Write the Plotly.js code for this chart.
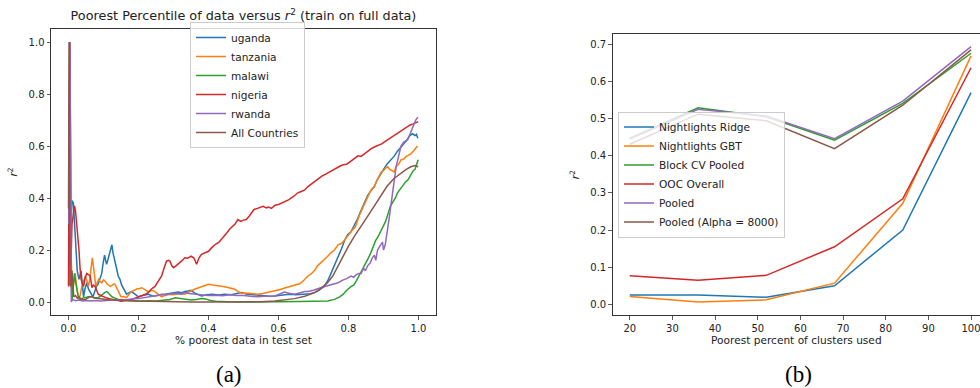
<!DOCTYPE html>
<html>
<head>
<meta charset="utf-8">
<script src="https://cdn.plot.ly/plotly-3.0.1.min.js"></script>
<style>html,body{margin:0;padding:0;background:#fff}#chart{width:980px;height:388px}</style>
</head>
<body>
<div id="chart"></div>
<script>
// ---------- Panel (a): poorest percentile vs r^2 ----------
const ugandaX = [0.001,0.004,0.007,0.010,0.014,0.018,0.021,0.025,0.030,0.033,0.036,0.040,0.043,0.047,0.052,0.057,0.062,0.066,0.070,0.075,0.080,0.085,0.090,0.095,0.099,0.103,0.106,0.109,0.113,0.116,0.120,0.124,0.127,0.131,0.135,0.138,0.142,0.147,0.152,0.157,0.162,0.166,0.172,0.180,0.190,0.200,0.212,0.228,0.242,0.256,0.270,0.285,0.300,0.313,0.325,0.332,0.342,0.350,0.360,0.370,0.380,0.395,0.410,0.430,0.446,0.465,0.480,0.494,0.510,0.525,0.540,0.560,0.575,0.590,0.610,0.630,0.650,0.675,0.690,0.703,0.715,0.730,0.740,0.750,0.760,0.770,0.780,0.790,0.798,0.807,0.815,0.826,0.835,0.845,0.855,0.865,0.874,0.882,0.890,0.900,0.910,0.920,0.930,0.940,0.950,0.959,0.968,0.975,0.983,0.990,0.994,0.998];
const ugandaY = [0.55,1.0,0.30,0.39,0.38,0.30,0.20,0.12,0.087,0.10,0.12,0.06,0.02,0.05,0.074,0.05,0.036,0.025,0.02,0.04,0.06,0.07,0.09,0.11,0.15,0.18,0.16,0.145,0.165,0.18,0.20,0.22,0.19,0.17,0.145,0.125,0.10,0.087,0.065,0.05,0.035,0.03,0.035,0.04,0.03,0.02,0.025,0.03,0.022,0.025,0.028,0.03,0.033,0.038,0.036,0.04,0.042,0.045,0.035,0.03,0.023,0.028,0.03,0.027,0.03,0.028,0.032,0.036,0.03,0.028,0.026,0.025,0.022,0.023,0.026,0.03,0.028,0.03,0.032,0.036,0.045,0.06,0.08,0.11,0.14,0.17,0.205,0.24,0.26,0.27,0.29,0.32,0.35,0.38,0.41,0.43,0.445,0.47,0.49,0.51,0.53,0.545,0.56,0.58,0.595,0.61,0.625,0.64,0.647,0.64,0.645,0.63];

const tanzaniaX = [0.001,0.004,0.008,0.012,0.016,0.019,0.024,0.030,0.034,0.038,0.043,0.048,0.052,0.057,0.061,0.065,0.068,0.071,0.074,0.078,0.082,0.086,0.090,0.095,0.100,0.105,0.110,0.115,0.119,0.125,0.130,0.133,0.137,0.140,0.145,0.150,0.158,0.166,0.173,0.180,0.188,0.195,0.203,0.210,0.218,0.228,0.238,0.247,0.256,0.266,0.275,0.285,0.297,0.310,0.322,0.332,0.345,0.360,0.372,0.385,0.400,0.412,0.425,0.437,0.450,0.462,0.475,0.485,0.494,0.505,0.520,0.540,0.555,0.570,0.590,0.605,0.620,0.636,0.650,0.660,0.670,0.684,0.695,0.705,0.712,0.720,0.730,0.740,0.750,0.760,0.770,0.780,0.790,0.800,0.810,0.820,0.830,0.840,0.850,0.857,0.864,0.872,0.880,0.886,0.893,0.900,0.906,0.912,0.918,0.924,0.930,0.936,0.943,0.950,0.958,0.965,0.972,0.978,0.985,0.991,0.997];
const tanzaniaY = [0.2,1.0,0.15,0.05,0.08,0.11,0.05,0.01,0.03,0.06,0.08,0.10,0.085,0.06,0.09,0.14,0.17,0.14,0.11,0.06,0.075,0.087,0.08,0.074,0.085,0.08,0.07,0.065,0.06,0.065,0.07,0.068,0.055,0.05,0.035,0.02,0.02,0.017,0.03,0.04,0.045,0.05,0.052,0.055,0.048,0.04,0.045,0.04,0.03,0.02,0.025,0.03,0.028,0.03,0.032,0.03,0.04,0.049,0.055,0.062,0.068,0.065,0.064,0.061,0.058,0.055,0.049,0.04,0.033,0.035,0.032,0.03,0.033,0.038,0.042,0.048,0.055,0.061,0.065,0.07,0.08,0.10,0.11,0.125,0.14,0.15,0.16,0.175,0.19,0.20,0.22,0.225,0.24,0.26,0.275,0.29,0.33,0.36,0.39,0.41,0.43,0.44,0.46,0.48,0.50,0.505,0.515,0.52,0.51,0.505,0.50,0.52,0.53,0.547,0.55,0.56,0.565,0.57,0.58,0.59,0.60];

const malawiX = [0.001,0.003,0.005,0.008,0.010,0.013,0.017,0.020,0.024,0.028,0.033,0.040,0.048,0.057,0.067,0.076,0.086,0.093,0.100,0.105,0.110,0.117,0.124,0.133,0.142,0.155,0.170,0.190,0.210,0.230,0.250,0.270,0.290,0.305,0.320,0.335,0.350,0.365,0.380,0.392,0.405,0.420,0.440,0.470,0.520,0.570,0.620,0.660,0.700,0.740,0.760,0.775,0.785,0.795,0.808,0.815,0.822,0.830,0.836,0.843,0.850,0.857,0.864,0.870,0.877,0.884,0.890,0.896,0.900,0.906,0.913,0.920,0.927,0.934,0.940,0.948,0.955,0.962,0.970,0.978,0.985,0.990,0.995,0.999];
const malawiY = [0.15,1.0,0.2,0.1,0.005,0.05,0.11,0.08,0.05,0.02,0.01,0.015,0.017,0.02,0.02,0.015,0.017,0.025,0.036,0.038,0.04,0.03,0.02,0.015,0.01,0.007,0.005,0.004,0.003,0.005,0.004,0.006,0.01,0.016,0.014,0.01,0.008,0.01,0.013,0.012,0.006,0.003,0.001,0.0,0.0,0.0,0.001,0.002,0.003,0.004,0.01,0.02,0.03,0.045,0.06,0.065,0.08,0.10,0.113,0.13,0.15,0.17,0.19,0.21,0.235,0.25,0.265,0.28,0.29,0.31,0.34,0.37,0.385,0.40,0.42,0.435,0.45,0.46,0.47,0.49,0.505,0.51,0.53,0.547];

const nigeriaX = [0.0,0.003,0.006,0.010,0.014,0.017,0.020,0.024,0.027,0.030,0.033,0.036,0.040,0.043,0.047,0.052,0.057,0.062,0.067,0.071,0.076,0.080,0.085,0.092,0.100,0.110,0.120,0.133,0.142,0.150,0.160,0.170,0.180,0.190,0.200,0.210,0.220,0.228,0.237,0.247,0.256,0.266,0.273,0.280,0.286,0.290,0.295,0.300,0.308,0.318,0.325,0.332,0.340,0.350,0.358,0.366,0.373,0.380,0.390,0.400,0.410,0.420,0.430,0.437,0.445,0.452,0.460,0.468,0.476,0.484,0.492,0.500,0.508,0.516,0.523,0.530,0.540,0.548,0.556,0.565,0.572,0.580,0.590,0.600,0.608,0.618,0.630,0.642,0.655,0.665,0.674,0.685,0.695,0.705,0.715,0.725,0.735,0.745,0.755,0.765,0.775,0.785,0.795,0.805,0.817,0.827,0.836,0.845,0.855,0.865,0.875,0.885,0.895,0.905,0.915,0.925,0.935,0.945,0.955,0.965,0.975,0.985,0.995,0.999];
const nigeriaY = [0.06,1.0,0.1,0.30,0.34,0.37,0.35,0.30,0.25,0.20,0.13,0.087,0.07,0.06,0.09,0.11,0.105,0.10,0.055,0.065,0.06,0.045,0.03,0.025,0.02,0.015,0.012,0.01,0.006,0.003,0.005,0.008,0.01,0.015,0.02,0.023,0.03,0.036,0.05,0.06,0.08,0.10,0.13,0.157,0.16,0.157,0.14,0.132,0.14,0.15,0.16,0.17,0.168,0.176,0.17,0.145,0.17,0.183,0.19,0.195,0.21,0.222,0.23,0.24,0.255,0.265,0.28,0.29,0.30,0.317,0.31,0.315,0.317,0.33,0.345,0.356,0.36,0.365,0.368,0.362,0.365,0.36,0.372,0.375,0.38,0.385,0.394,0.405,0.42,0.425,0.43,0.445,0.455,0.468,0.475,0.485,0.492,0.50,0.505,0.515,0.522,0.528,0.53,0.54,0.554,0.562,0.56,0.57,0.58,0.59,0.597,0.603,0.608,0.618,0.627,0.635,0.645,0.655,0.665,0.672,0.68,0.685,0.69,0.694];

const rwandaX = [0.001,0.004,0.006,0.008,0.012,0.020,0.030,0.040,0.050,0.060,0.070,0.080,0.090,0.100,0.120,0.140,0.150,0.160,0.180,0.200,0.215,0.228,0.240,0.256,0.266,0.280,0.295,0.310,0.322,0.332,0.345,0.360,0.375,0.390,0.400,0.420,0.440,0.460,0.480,0.500,0.520,0.540,0.560,0.580,0.590,0.605,0.617,0.630,0.645,0.660,0.675,0.684,0.700,0.720,0.735,0.750,0.770,0.785,0.795,0.807,0.815,0.822,0.830,0.836,0.843,0.848,0.855,0.862,0.868,0.874,0.878,0.883,0.888,0.892,0.897,0.900,0.905,0.910,0.917,0.922,0.926,0.931,0.936,0.943,0.950,0.958,0.969,0.977,0.985,0.992,0.998];
const rwandaY = [0.3,1.0,0.5,0.0,0.01,0.005,0.008,0.004,0.006,0.004,0.005,0.006,0.004,0.005,0.006,0.008,0.01,0.008,0.012,0.013,0.016,0.02,0.022,0.026,0.03,0.028,0.032,0.034,0.03,0.036,0.033,0.03,0.028,0.026,0.025,0.026,0.024,0.028,0.025,0.025,0.022,0.02,0.022,0.021,0.023,0.032,0.038,0.034,0.03,0.035,0.04,0.04,0.045,0.055,0.06,0.065,0.074,0.085,0.09,0.10,0.095,0.105,0.11,0.11,0.13,0.12,0.14,0.15,0.17,0.18,0.16,0.20,0.215,0.22,0.23,0.20,0.22,0.26,0.33,0.38,0.43,0.47,0.52,0.56,0.60,0.615,0.624,0.65,0.68,0.70,0.711];

const allX = [0.0,0.002,0.004,0.007,0.010,0.013,0.015,0.020,0.025,0.030,0.035,0.040,0.048,0.055,0.060,0.067,0.075,0.085,0.100,0.115,0.130,0.150,0.175,0.200,0.225,0.250,0.300,0.350,0.400,0.450,0.500,0.550,0.590,0.620,0.646,0.675,0.703,0.720,0.740,0.755,0.770,0.785,0.800,0.818,0.836,0.855,0.874,0.890,0.910,0.930,0.950,0.965,0.978,0.990,0.999];
const allY = [0.36,1.0,0.065,0.06,0.12,0.04,0.02,0.025,0.015,0.02,0.012,0.01,0.01,0.015,0.02,0.02,0.015,0.013,0.01,0.009,0.008,0.006,0.005,0.004,0.003,0.002,0.001,0.0,0.0,0.0,0.0,0.001,0.004,0.008,0.013,0.022,0.036,0.05,0.074,0.10,0.14,0.18,0.215,0.255,0.29,0.33,0.37,0.405,0.445,0.475,0.496,0.51,0.52,0.525,0.52];

const countryNames = ['uganda','tanzania','malawi','nigeria','rwanda','All Countries'];

// ---------- Panel (b): poorest percent of clusters used ----------
const clusterPct = [20, 36, 52, 68, 84, 100];
const nlRidge   = [0.025, 0.025, 0.019, 0.050, 0.200, 0.570];
const nlGBT     = [0.021, 0.006, 0.012, 0.057, 0.272, 0.669];
const blockCV   = [0.447, 0.529, 0.505, 0.442, 0.541, 0.676];
const oocOverall= [0.077, 0.065, 0.078, 0.155, 0.284, 0.637];
const pooled    = [0.445, 0.525, 0.507, 0.446, 0.547, 0.694];
const pooledA   = [0.431, 0.512, 0.494, 0.419, 0.536, 0.685];
const modelNames = ['Nightlights Ridge','Nightlights GBT','Block CV Pooled','OOC Overall','Pooled','Pooled (Alpha = 8000)'];

const colors = ['#1f77b4','#ff7f0e','#2ca02c','#d62728','#9467bd','#8c564b'];
const FONT = 'DejaVu Sans, sans-serif';
const TICK = 10, LAB = 10.6;

const leftXs = [ugandaX, tanzaniaX, malawiX, nigeriaX, rwandaX, allX];
const leftYs = [ugandaY, tanzaniaY, malawiY, nigeriaY, rwandaY, allY];
const rightYs = [nlRidge, nlGBT, blockCV, oocOverall, pooled, pooledA];

const traces = [];
countryNames.forEach((n, i) => {
  traces.push({x: leftXs[i], y: leftYs[i], name: n, type: 'scatter', mode: 'lines',
    line: {color: colors[i], width: 1.5}, xaxis: 'x', yaxis: 'y', legend: 'legend'});
});
modelNames.forEach((n, i) => {
  traces.push({x: clusterPct, y: rightYs[i], name: n, type: 'scatter', mode: 'lines',
    line: {color: colors[i], width: 1.5}, xaxis: 'x2', yaxis: 'y2', legend: 'legend2'});
});

const W = 980, H = 388;
const axCommon = {
  showgrid: false, zeroline: false, showline: true, linecolor: '#333', linewidth: 1,
  ticks: 'outside', ticklen: 3.5, tickwidth: 0.8, tickcolor: '#333', ticklabeloverflow: 'allow',
  tickfont: {family: FONT, size: TICK, color: '#222'}, automargin: false
};
const titleFont = {family: FONT, size: LAB, color: '#222'};

const layout = {
  width: W, height: H,
  margin: {l: 0, r: 0, t: 0, b: 0},
  paper_bgcolor: '#fff', plot_bgcolor: '#fff',
  font: {family: FONT, color: '#222'},
  showlegend: true,
  title: {text: 'Poorest Percentile of data versus <i>r</i><sup>2</sup> (train on full data)',
    x: 243.5 / W, xanchor: 'center', y: 1 - 16 / H, yanchor: 'middle', xref: 'paper', yref: 'paper',
    font: {family: FONT, size: 12.8, color: '#222'}},
  xaxis: Object.assign({}, axCommon, {
    domain: [51 / W, 436 / W], range: [-0.05, 1.05], mirror: true,
    tickvals: [0, 0.2, 0.4, 0.6, 0.8, 1.0], tickformat: '.1f',
    title: {text: '% poorest data in test set', font: titleFont, standoff: 4}
  }),
  yaxis: Object.assign({}, axCommon, {
    domain: [(H - 315) / H, (H - 29) / H], range: [-0.05, 1.05], mirror: true,
    tickvals: [0, 0.2, 0.4, 0.6, 0.8, 1.0], tickformat: '.1f',
    title: {text: '<i>r</i><sup>2</sup>', font: titleFont, standoff: 8}
  }),
  xaxis2: Object.assign({}, axCommon, {
    domain: [612.7 / W, 1], range: [16, 102.1], mirror: true, anchor: 'y2',
    tickvals: [20, 30, 40, 50, 60, 70, 80, 90, 100],
    title: {text: 'Poorest percent of clusters used', font: titleFont, standoff: 4}
  }),
  yaxis2: Object.assign({}, axCommon, {
    domain: [(H - 315) / H, (H - 34.3) / H], range: [-0.0288, 0.727], mirror: false, anchor: 'x2',
    tickvals: [0, 0.1, 0.2, 0.3, 0.4, 0.5, 0.6, 0.7], tickformat: '.1f',
    title: {text: '<i>r</i><sup>2</sup>', font: titleFont, standoff: 8}
  }),
  legend: {x: 190 / W, y: 1 - 85 / H, xanchor: 'left', yanchor: 'middle',
    bgcolor: 'rgba(255,255,255,0.8)', bordercolor: '#cccccc', borderwidth: 1,
    font: {family: FONT, size: LAB, color: '#222'}},
  legend2: {x: 618 / W, y: 1 - 174.5 / H, xanchor: 'left', yanchor: 'middle',
    bgcolor: 'rgba(255,255,255,0.8)', bordercolor: '#cccccc', borderwidth: 1,
    font: {family: FONT, size: LAB, color: '#222'}},
  annotations: [
    {text: '(a)', x: 229 / W, y: 1 - 374 / H, xref: 'paper', yref: 'paper', showarrow: false,
      xanchor: 'center', yanchor: 'middle', font: {family: 'Liberation Serif, serif', size: 23, color: '#000'}},
    {text: '(b)', x: 798 / W, y: 1 - 374 / H, xref: 'paper', yref: 'paper', showarrow: false,
      xanchor: 'center', yanchor: 'middle', font: {family: 'Liberation Serif, serif', size: 23, color: '#000'}}
  ]
};

Plotly.newPlot('chart', traces, layout, {displayModeBar: false, staticPlot: true});
</script>
</body>
</html>
